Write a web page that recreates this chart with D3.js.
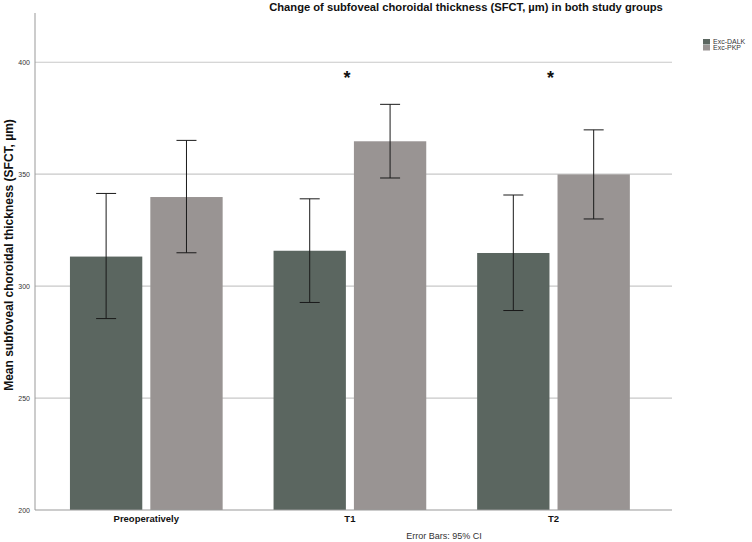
<!DOCTYPE html>
<html>
<head>
<meta charset="utf-8">
<script src="https://cdn.jsdelivr.net/npm/d3@7"></script>
<style>
  body { margin: 0; background: #fff; }
  text { font-family: "Liberation Sans", Arial, sans-serif; }
</style>
</head>
<body>
<figure id="bar" style="margin:0"></figure>
<script>
const categories = ["Preoperatively", "T1", "T2"]
const groups = ["Exc-DALK", "Exc-PKP"]
const means = {
  "Exc-DALK": [313.2, 315.8, 314.8],
  "Exc-PKP":  [339.8, 364.7, 349.9]
}
const ciLow = {
  "Exc-DALK": [285.5, 292.7, 289.1],
  "Exc-PKP":  [314.9, 348.3, 330.0]
}
const ciHigh = {
  "Exc-DALK": [341.4, 339.0, 340.7],
  "Exc-PKP":  [365.1, 381.2, 369.8]
}
const yTicks = [200, 250, 300, 350, 400]
const significant = ["T1", "T2"]

const colors = { "Exc-DALK": "#5b6660", "Exc-PKP": "#999493" }

const width = 752
const height = 542

const svg = d3.select('figure#bar')
  .append("svg")
  .attr("width", width)
  .attr("height", height)

/* plot frame */
const plotLeft = 35, plotRight = 672, plotTop = 13, plotBottom = 510

const y = d3.scaleLinear()
  .domain([200, 422])
  .range([plotBottom, plotTop])

const x = d3.scaleBand()
  .domain(categories)
  .range([44.5, 655.3])
  .paddingInner(0.25)
  .paddingOuter(0.125)

const xGroup = d3.scaleBand()
  .domain(groups)
  .range([0, x.bandwidth()])
  .paddingInner(0.1)

// gridlines
svg.append("g")
  .selectAll("line")
  .data(yTicks.filter(t => t > 200))
  .enter()
  .append("line")
  .attr("x1", plotLeft)
  .attr("x2", plotRight)
  .attr("y1", d => y(d))
  .attr("y2", d => y(d))
  .attr("stroke", "#c8c8c8")
  .attr("stroke-width", 1.2)

// y axis
const yAxis = svg.append("g")
  .attr("transform", "translate(" + plotLeft + ",0)")
  .call(d3.axisLeft(y).tickValues(yTicks).tickSize(0).tickPadding(5))
yAxis.select(".domain").attr("stroke", "#999").attr("d", "M0," + plotTop + "V" + plotBottom)
yAxis.selectAll("text")
  .attr("font-size", "7px")
  .attr("fill", "#333")

// bars
const rows = []
categories.forEach((c, i) => {
  groups.forEach(g => {
    rows.push({ cat: c, group: g, mean: means[g][i], lo: ciLow[g][i], hi: ciHigh[g][i] })
  })
})

svg.append("g")
  .selectAll("rect")
  .data(rows)
  .enter()
  .append("rect")
  .attr("x", d => x(d.cat) + xGroup(d.group))
  .attr("y", d => y(d.mean))
  .attr("width", xGroup.bandwidth())
  .attr("height", d => y(200) - y(d.mean))
  .attr("fill", d => colors[d.group])

// x axis line
svg.append("line")
  .attr("x1", plotLeft)
  .attr("x2", plotRight)
  .attr("y1", plotBottom)
  .attr("y2", plotBottom)
  .attr("stroke", "#999")
  .attr("stroke-width", 1.2)

// error bars
const cap = 10
const eb = svg.append("g")
  .selectAll("g")
  .data(rows)
  .enter()
  .append("g")
  .attr("stroke", "#1a1a1a")
  .attr("stroke-width", 1)
  .attr("transform", d => "translate(" + (x(d.cat) + xGroup(d.group) + xGroup.bandwidth() / 2) + ",0)")

eb.append("line").attr("y1", d => y(d.lo)).attr("y2", d => y(d.hi))
eb.append("line").attr("x1", -cap).attr("x2", cap).attr("y1", d => y(d.hi)).attr("y2", d => y(d.hi))
eb.append("line").attr("x1", -cap).attr("x2", cap).attr("y1", d => y(d.lo)).attr("y2", d => y(d.lo))

// x labels
svg.append("g")
  .selectAll("text")
  .data(categories)
  .enter()
  .append("text")
  .attr("x", d => x(d) + x.bandwidth() / 2)
  .attr("y", 522)
  .attr("text-anchor", "middle")
  .attr("font-size", "9.5px")
  .attr("font-weight", "bold")
  .attr("fill", "#111")
  .text(d => d)

// significance stars
svg.append("g")
  .selectAll("text")
  .data(significant)
  .enter()
  .append("text")
  .attr("x", d => x(d) + x.bandwidth() / 2 - 3)
  .attr("y", 84)
  .attr("text-anchor", "middle")
  .attr("font-size", "18px")
  .attr("font-weight", "bold")
  .attr("fill", "#111")
  .text("*")

// title
svg.append("text")
  .attr("x", 466)
  .attr("y", 11)
  .attr("text-anchor", "middle")
  .attr("font-size", "11.2px")
  .attr("font-weight", "bold")
  .attr("fill", "#111")
  .text("Change of subfoveal choroidal thickness (SFCT, µm) in both study groups")

// y title
svg.append("text")
  .attr("transform", "translate(13,255) rotate(-90)")
  .attr("text-anchor", "middle")
  .attr("font-size", "12px")
  .attr("font-weight", "bold")
  .attr("fill", "#111")
  .text("Mean subfoveal choroidal thickness (SFCT, µm)")

// footnote
svg.append("text")
  .attr("x", 444)
  .attr("y", 539)
  .attr("text-anchor", "middle")
  .attr("font-size", "9px")
  .attr("fill", "#333")
  .text("Error Bars: 95% CI")

// legend
const legend = svg.append("g")
  .attr("transform", "translate(703,39)")
  .selectAll("g")
  .data(groups)
  .enter()
  .append("g")
  .attr("transform", (d, i) => "translate(0," + i * 6 + ")")
legend.append("rect").attr("width", 7).attr("height", 5.5).attr("fill", d => colors[d])
legend.append("text")
  .attr("x", 10)
  .attr("y", 5)
  .attr("font-size", "7px")
  .attr("fill", "#333")
  .text(d => d)
</script>
</body>
</html>
